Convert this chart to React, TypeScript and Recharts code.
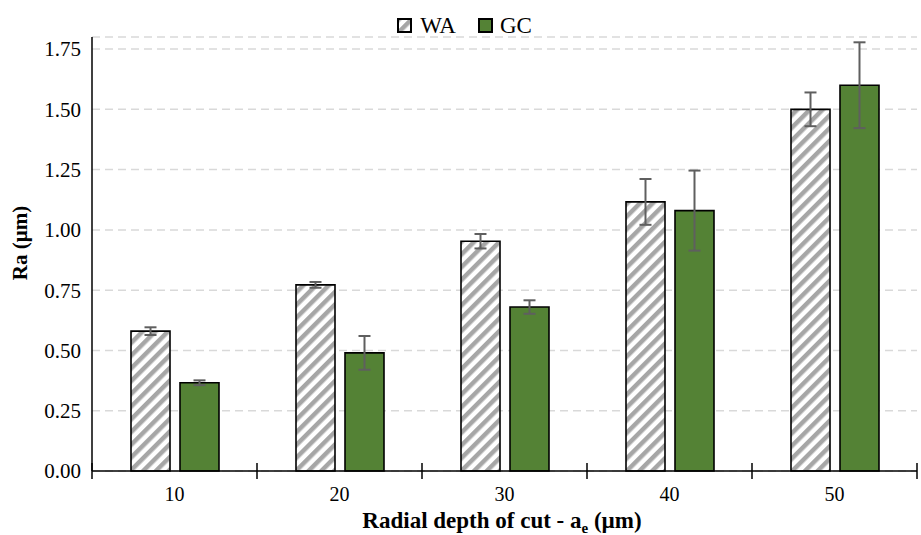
import React from 'react';
import {
  BarChart,
  Bar,
  XAxis,
  YAxis,
  CartesianGrid,
  Legend,
  ErrorBar,
  Label,
} from 'recharts';

// 半径方向切込み深さ (µm)
const depths = ['10', '20', '30', '40', '50'];
// 表面粗さ Ra (µm)
const waValues = [0.58, 0.772, 0.953, 1.116, 1.5];
const waErrors = [0.016, 0.012, 0.03, 0.095, 0.07];
const gcValues = [0.366, 0.49, 0.68, 1.08, 1.6];
const gcErrors = [0.01, 0.07, 0.028, 0.166, 0.178];
const yTicks = [0, 0.25, 0.5, 0.75, 1, 1.25, 1.5, 1.75];

const WIDTH = 921;
const HEIGHT = 535;
const FONT = "'Liberation Serif', 'Times New Roman', serif";
const GREEN = '#548235';
const ERR_COLOR = '#5f5f5f';
const TICK_MARGIN = 16;
const PLOT_LEFT = 92;
const PLOT_RIGHT = WIDTH - 4;

const chartData = depths.map((depth, i) => ({
  depth,
  wa: waValues[i],
  waErr: waErrors[i],
  gc: gcValues[i],
  gcErr: gcErrors[i],
}));

const serif = (size: number, bold = false): React.CSSProperties => ({
  fontFamily: FONT,
  fontSize: size,
  fontWeight: bold ? 'bold' : 'normal',
});

// X 軸の目盛り: ラベル + カテゴリ境界のクロス目盛り
const XTick = (props: any) => {
  const { x, y, payload, index } = props;
  const band = (PLOT_RIGHT - PLOT_LEFT) / depths.length;
  const axisY = y - TICK_MARGIN;
  return (
    <g>
      <line x1={x - band / 2} x2={x - band / 2} y1={axisY - 8} y2={axisY + 8} stroke="#000" strokeWidth={1.5} />
      {index === depths.length - 1 && (
        <line x1={x + band / 2} x2={x + band / 2} y1={axisY - 8} y2={axisY + 8} stroke="#000" strokeWidth={1.5} />
      )}
      <text x={x} y={y} dy="0.7em" textAnchor="middle" style={serif(20)} fill="#000">
        {payload.value}
      </text>
    </g>
  );
};

const YTick = (props: any) => {
  const { x, y, payload } = props;
  return (
    <text x={x} y={y} dy="0.35em" textAnchor="end" style={serif(21)} fill="#000">
      {Number(payload.value).toFixed(2)}
    </text>
  );
};

const YTitle = () => (
  <text x={27} y={243} transform="rotate(-90, 27, 243)" textAnchor="middle" style={serif(21, true)} fill="#000">
    Ra (µm)
  </text>
);

const XTitle = () => (
  <text x={502} y={528} textAnchor="middle" style={serif(23, true)} fill="#000">
    Radial depth of cut - a
    <tspan style={{ fontSize: 15 }} dy={5}>e</tspan>
    <tspan dy={-5}> (µm)</tspan>
  </text>
);

const Swatch = ({ fill }: { fill: string }) => (
  <svg width={15} height={15} style={{ display: 'block' }}>
    <rect x={1} y={1} width={13} height={13} fill={fill} stroke="#000" strokeWidth={2} />
  </svg>
);

const renderLegend = () => (
  <div
    style={{
      display: 'flex',
      justifyContent: 'center',
      alignItems: 'center',
      paddingTop: 10,
      paddingLeft: 12,
      height: 23,
      fontFamily: FONT,
      fontSize: 23,
      color: '#000',
    }}
  >
    <Swatch fill="url(#waHatch)" />
    <span style={{ marginLeft: 8, marginRight: 22, lineHeight: '15px' }}>WA</span>
    <Swatch fill={GREEN} />
    <span style={{ marginLeft: 7, lineHeight: '15px' }}>GC</span>
  </div>
);

export default function App() {
  return (
    <div style={{ position: 'absolute', left: 0, top: 0, background: '#fff' }}>
      <BarChart
        width={WIDTH}
        height={HEIGHT}
        data={chartData}
        margin={{ top: 4, right: 4, left: 0, bottom: 0 }}
        barSize={39}
        barGap={10}
      >
        <defs>
          <pattern id="waHatch" patternUnits="userSpaceOnUse" width={9} height={9} patternTransform="rotate(45)">
            <rect x={0} y={0} width={9} height={9} fill="#fff" />
            <rect x={0} y={0} width={4.5} height={9} fill="#a6a6a6" />
          </pattern>
        </defs>
        <Legend verticalAlign="top" align="center" content={renderLegend} />
        <CartesianGrid vertical={false} stroke="#d9d9d9" strokeDasharray="8 5" strokeWidth={1.5} />
        <XAxis
          dataKey="depth"
          height={64}
          tickLine={false}
          tickSize={0}
          tickMargin={TICK_MARGIN}
          axisLine={{ stroke: '#000', strokeWidth: 1.5 }}
          tick={<XTick />}
          interval={0}
        >
          <Label content={<XTitle />} />
        </XAxis>
        <YAxis
          width={92}
          domain={[0, 1.8]}
          ticks={yTicks}
          tickLine={false}
          tickSize={0}
          tickMargin={11}
          axisLine={{ stroke: '#000', strokeWidth: 1.5 }}
          tick={<YTick />}
          interval={0}
        >
          <Label content={<YTitle />} />
        </YAxis>
        <Bar dataKey="wa" name="WA" fill="url(#waHatch)" stroke="#000" strokeWidth={1.6} isAnimationActive={false}>
          <ErrorBar dataKey="waErr" width={6} stroke={ERR_COLOR} strokeWidth={2} />
        </Bar>
        <Bar dataKey="gc" name="GC" fill={GREEN} stroke="#000" strokeWidth={1.6} isAnimationActive={false}>
          <ErrorBar dataKey="gcErr" width={6} stroke={ERR_COLOR} strokeWidth={2} />
        </Bar>
      </BarChart>
    </div>
  );
}
